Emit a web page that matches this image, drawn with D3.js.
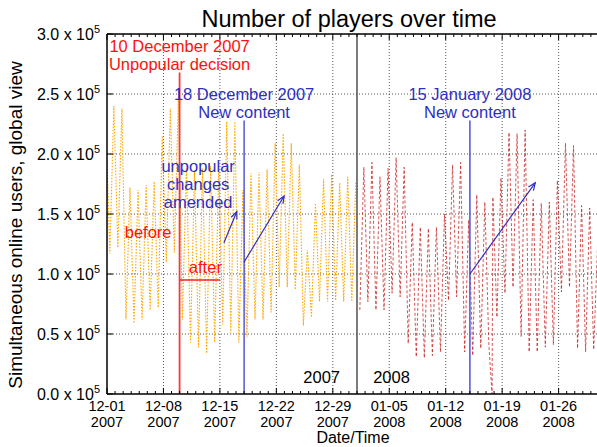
<!DOCTYPE html>
<html><head><meta charset="utf-8">
<script src="https://cdn.jsdelivr.net/npm/d3@7"></script>
<style>
body{margin:0;background:#fff}
svg{display:block}
text{font-family:"Liberation Sans",Arial,Helvetica,sans-serif}
</style>
</head><body>
<svg id="c" width="597" height="447"></svg>
<script>
// ---------------- data (values in thousands of users) ----------------
const orangeStart = "2007-12-01";
const orangeOpen = 195;
const orangeTroughs = [117,122,62,59,62,70,72,110,118,62,43,39,34,43,58,51,43,47,62,62,68,89,89,87,57,64,77,77,78,77,77];
const orangePeaks   = [240,238,172,170,174,177,215,238,245,190,185,188,190,186,227,227,170,184,185,187,209,217,209,191,120,159,179,183,176,181,176];
const redStart = "2008-01-01";
const redTroughs = [70,77,70,70,84,81,42,31,30,32,35,78,81,35,32,38,41,64,84,89,48,35,35,39,41,85,89,38,35,37,40];
const redPeaks   = [189,193,181,188,197,189,143,139,138,139,150,191,193,145,166,160,164,180,218,217,220,162,159,160,178,209,207,157,155,128,150];
const troughHour = 8.4;
const peakHour = 20.4;
const outageTimes = ["2008-01-17T18:00:00Z"];
const outageValues = [0];

const xTickDates = ["2007-12-01","2007-12-08","2007-12-15","2007-12-22","2007-12-29","2008-01-05","2008-01-12","2008-01-19","2008-01-26"];
const yTickValues = [0, 50000, 100000, 150000, 200000, 250000, 300000];
const yTickMantissa = ["0.0","0.5","1.0","1.5","2.0","2.5","3.0"];

// ---------------- helpers ----------------
const DAY = 864e5;
const P = s => new Date(s.length === 10 ? s + "T00:00:00Z" : s);
const dayOffset = (s, d) => new Date(P(s).getTime() + d * DAY);

function build(start, troughs, peaks) {
  const pts = [];
  for (let i = 0; i < troughs.length; i++) {
    pts.push({t: dayOffset(start, i + troughHour / 24), v: troughs[i] * 1000});
    pts.push({t: dayOffset(start, i + peakHour / 24), v: peaks[i] * 1000});
  }
  return pts;
}
const orangeSeries = [{t: P(orangeStart), v: orangeOpen * 1000}].concat(build(orangeStart, orangeTroughs, orangePeaks));
const redSeries = build(redStart, redTroughs, redPeaks)
  .concat(outageTimes.map((d, i) => ({t: P(d), v: outageValues[i] * 1000})))
  .sort((a, b) => a.t - b.t);

// ---------------- layout ----------------
const svg = d3.select("#c");
const L = 107, T = 34, B = 394, R = 607;
const x = d3.scaleUtc().domain([P("2007-12-01"), P("2008-02-01")]).range([L, R]);
const y = d3.scaleLinear().domain([0, 300000]).range([B, T]);

// grid
const grid = svg.append("g").attr("stroke", "#444").attr("stroke-width", 0.9).attr("stroke-dasharray", "1,2");
xTickDates.slice(1).forEach(d => grid.append("line").attr("x1", x(P(d))).attr("x2", x(P(d))).attr("y1", T).attr("y2", B));
yTickValues.slice(1, -1).forEach(v => grid.append("line").attr("x1", L).attr("x2", R).attr("y1", y(v)).attr("y2", y(v)));

// clip
svg.append("clipPath").attr("id", "clip").append("rect").attr("x", L).attr("y", T).attr("width", R - L).attr("height", B - T);
const plot = svg.append("g").attr("clip-path", "url(#clip)");

const line = d3.line().x(d => x(d.t)).y(d => y(d.v));
plot.append("path").datum(orangeSeries).attr("d", line).attr("fill", "none")
  .attr("stroke", "#ffa500").attr("stroke-width", 1.1).attr("stroke-dasharray", "1.5,1.5");
plot.append("path").datum(redSeries).attr("d", line).attr("fill", "none")
  .attr("stroke", "#c81e1e").attr("stroke-opacity", 0.85).attr("stroke-width", 0.9).attr("stroke-dasharray", "3,2");

// event lines
plot.append("line").attr("x1", x(P("2007-12-10"))).attr("x2", x(P("2007-12-10"))).attr("y1", B).attr("y2", y(268000))
  .attr("stroke", "#f03c3c").attr("stroke-width", 1.8);
plot.append("line").attr("x1", x(P("2007-12-18"))).attr("x2", x(P("2007-12-18"))).attr("y1", B).attr("y2", y(228000))
  .attr("stroke", "#2a2ac8").attr("stroke-width", 1.2);
plot.append("line").attr("x1", x(P("2008-01-01"))).attr("x2", x(P("2008-01-01"))).attr("y1", B).attr("y2", T)
  .attr("stroke", "#444").attr("stroke-width", 1.4);
plot.append("line").attr("x1", x(P("2008-01-15"))).attr("x2", x(P("2008-01-15"))).attr("y1", B).attr("y2", y(228000))
  .attr("stroke", "#5a5ae0").attr("stroke-width", 1.6);

// "after" level line
plot.append("line").attr("x1", x(P("2007-12-10"))).attr("x2", x(dayOffset("2007-12-01", 14.0))).attr("y1", y(95000)).attr("y2", y(95000))
  .attr("stroke", "#f02020").attr("stroke-width", 1.5);

// arrows
function arrow(d0, v0, d1, v1) {
  const x0 = x(d0), y0 = y(v0), x1 = x(d1), y1 = y(v1);
  const a = Math.atan2(y1 - y0, x1 - x0), h = 8, w = 0.4;
  const g = plot.append("g").attr("stroke", "#2e2ec0").attr("stroke-width", 1.2).attr("fill", "none");
  g.append("line").attr("x1", x0).attr("y1", y0).attr("x2", x1).attr("y2", y1);
  g.append("path").attr("d", `M${x1 - h * Math.cos(a - w)},${y1 - h * Math.sin(a - w)}L${x1},${y1}L${x1 - h * Math.cos(a + w)},${y1 - h * Math.sin(a + w)}`);
}
arrow(dayOffset("2007-12-01", 14.5), 126000, dayOffset("2007-12-01", 16.1), 152000);
arrow(P("2007-12-18"), 110000, dayOffset("2007-12-01", 21.96), 165000);
arrow(P("2008-01-15"), 100000, dayOffset("2007-12-01", 53.1), 176000);

// border
const bd = svg.append("g").attr("stroke", "#000").attr("stroke-width", 1.5);
bd.append("line").attr("x1", L).attr("x2", L).attr("y1", T).attr("y2", B);
bd.append("line").attr("x1", L).attr("x2", R).attr("y1", B).attr("y2", B);
bd.append("line").attr("x1", L).attr("x2", R).attr("y1", T).attr("y2", T);

// ticks
const tk = svg.append("g").attr("stroke", "#000").attr("stroke-width", 1);
d3.utcDay.range(P("2007-12-01"), P("2008-02-01")).forEach(d => {
  const major = xTickDates.some(s => +P(s) === +d);
  const len = major ? 6 : 3;
  tk.append("line").attr("x1", x(d)).attr("x2", x(d)).attr("y1", B).attr("y2", B - len);
  tk.append("line").attr("x1", x(d)).attr("x2", x(d)).attr("y1", T).attr("y2", T + len);
});
yTickValues.forEach(v => tk.append("line").attr("x1", L).attr("x2", L + 6).attr("y1", y(v)).attr("y2", y(v)));

// x tick labels
const fmtMD = d3.utcFormat("%m-%d"), fmtY = d3.utcFormat("%Y");
xTickDates.forEach(s => {
  const d = P(s);
  const t = svg.append("text").attr("x", x(d)).attr("text-anchor", "middle").attr("font-size", 14.5).attr("fill", "#000");
  t.append("tspan").attr("x", x(d)).attr("y", 411).text(fmtMD(d));
  t.append("tspan").attr("x", x(d)).attr("y", 427).text(fmtY(d));
});

// y tick labels
yTickValues.forEach((v, i) => {
  const t = svg.append("text").attr("x", 100).attr("y", y(v) + 6).attr("text-anchor", "end").attr("font-size", 16).attr("fill", "#000");
  t.append("tspan").text(yTickMantissa[i] + " x 10");
  t.append("tspan").attr("dy", -7).attr("font-size", 11).text("5");
});

// titles
svg.append("text").attr("x", 349).attr("y", 27).attr("text-anchor", "middle").attr("font-size", 23.5).text("Number of players over time");
svg.append("text").attr("x", 353).attr("y", 443).attr("text-anchor", "middle").attr("font-size", 16).text("Date/Time");
svg.append("text").attr("transform", "translate(22,225) rotate(-90)").attr("text-anchor", "middle").attr("font-size", 19)
  .text("Simultaneous online users, global view");

// annotations
function label(lines, d, baselines, color, anchor) {
  const t = svg.append("text").attr("text-anchor", anchor || "middle").attr("font-size", 16.5).attr("fill", color);
  lines.forEach((s, i) => t.append("tspan").attr("x", x(d)).attr("y", baselines[i]).text(s));
}
label(["10 December 2007", "Unpopular decision"], P("2007-12-10"), [52, 70], "#ff1010");
label(["18 December 2007", "New content"], P("2007-12-18"), [100, 118], "#2e2ec0");
label(["15 January 2008", "New content"], P("2008-01-15"), [100, 118], "#2e2ec0");
label(["unpopular", "changes", "amended"], dayOffset("2007-12-01", 11.3), [172, 190, 208], "#2e2ec0");
label(["before"], dayOffset("2007-12-01", 5.1), [238], "#ff1010");
label(["after"], dayOffset("2007-12-01", 12.2), [273], "#ff1010");
label(["2007"], dayOffset("2007-12-01", 28.9), [383], "#000", "end");
label(["2008"], dayOffset("2007-12-01", 33.0), [383], "#000", "start");
</script>
</body></html>
